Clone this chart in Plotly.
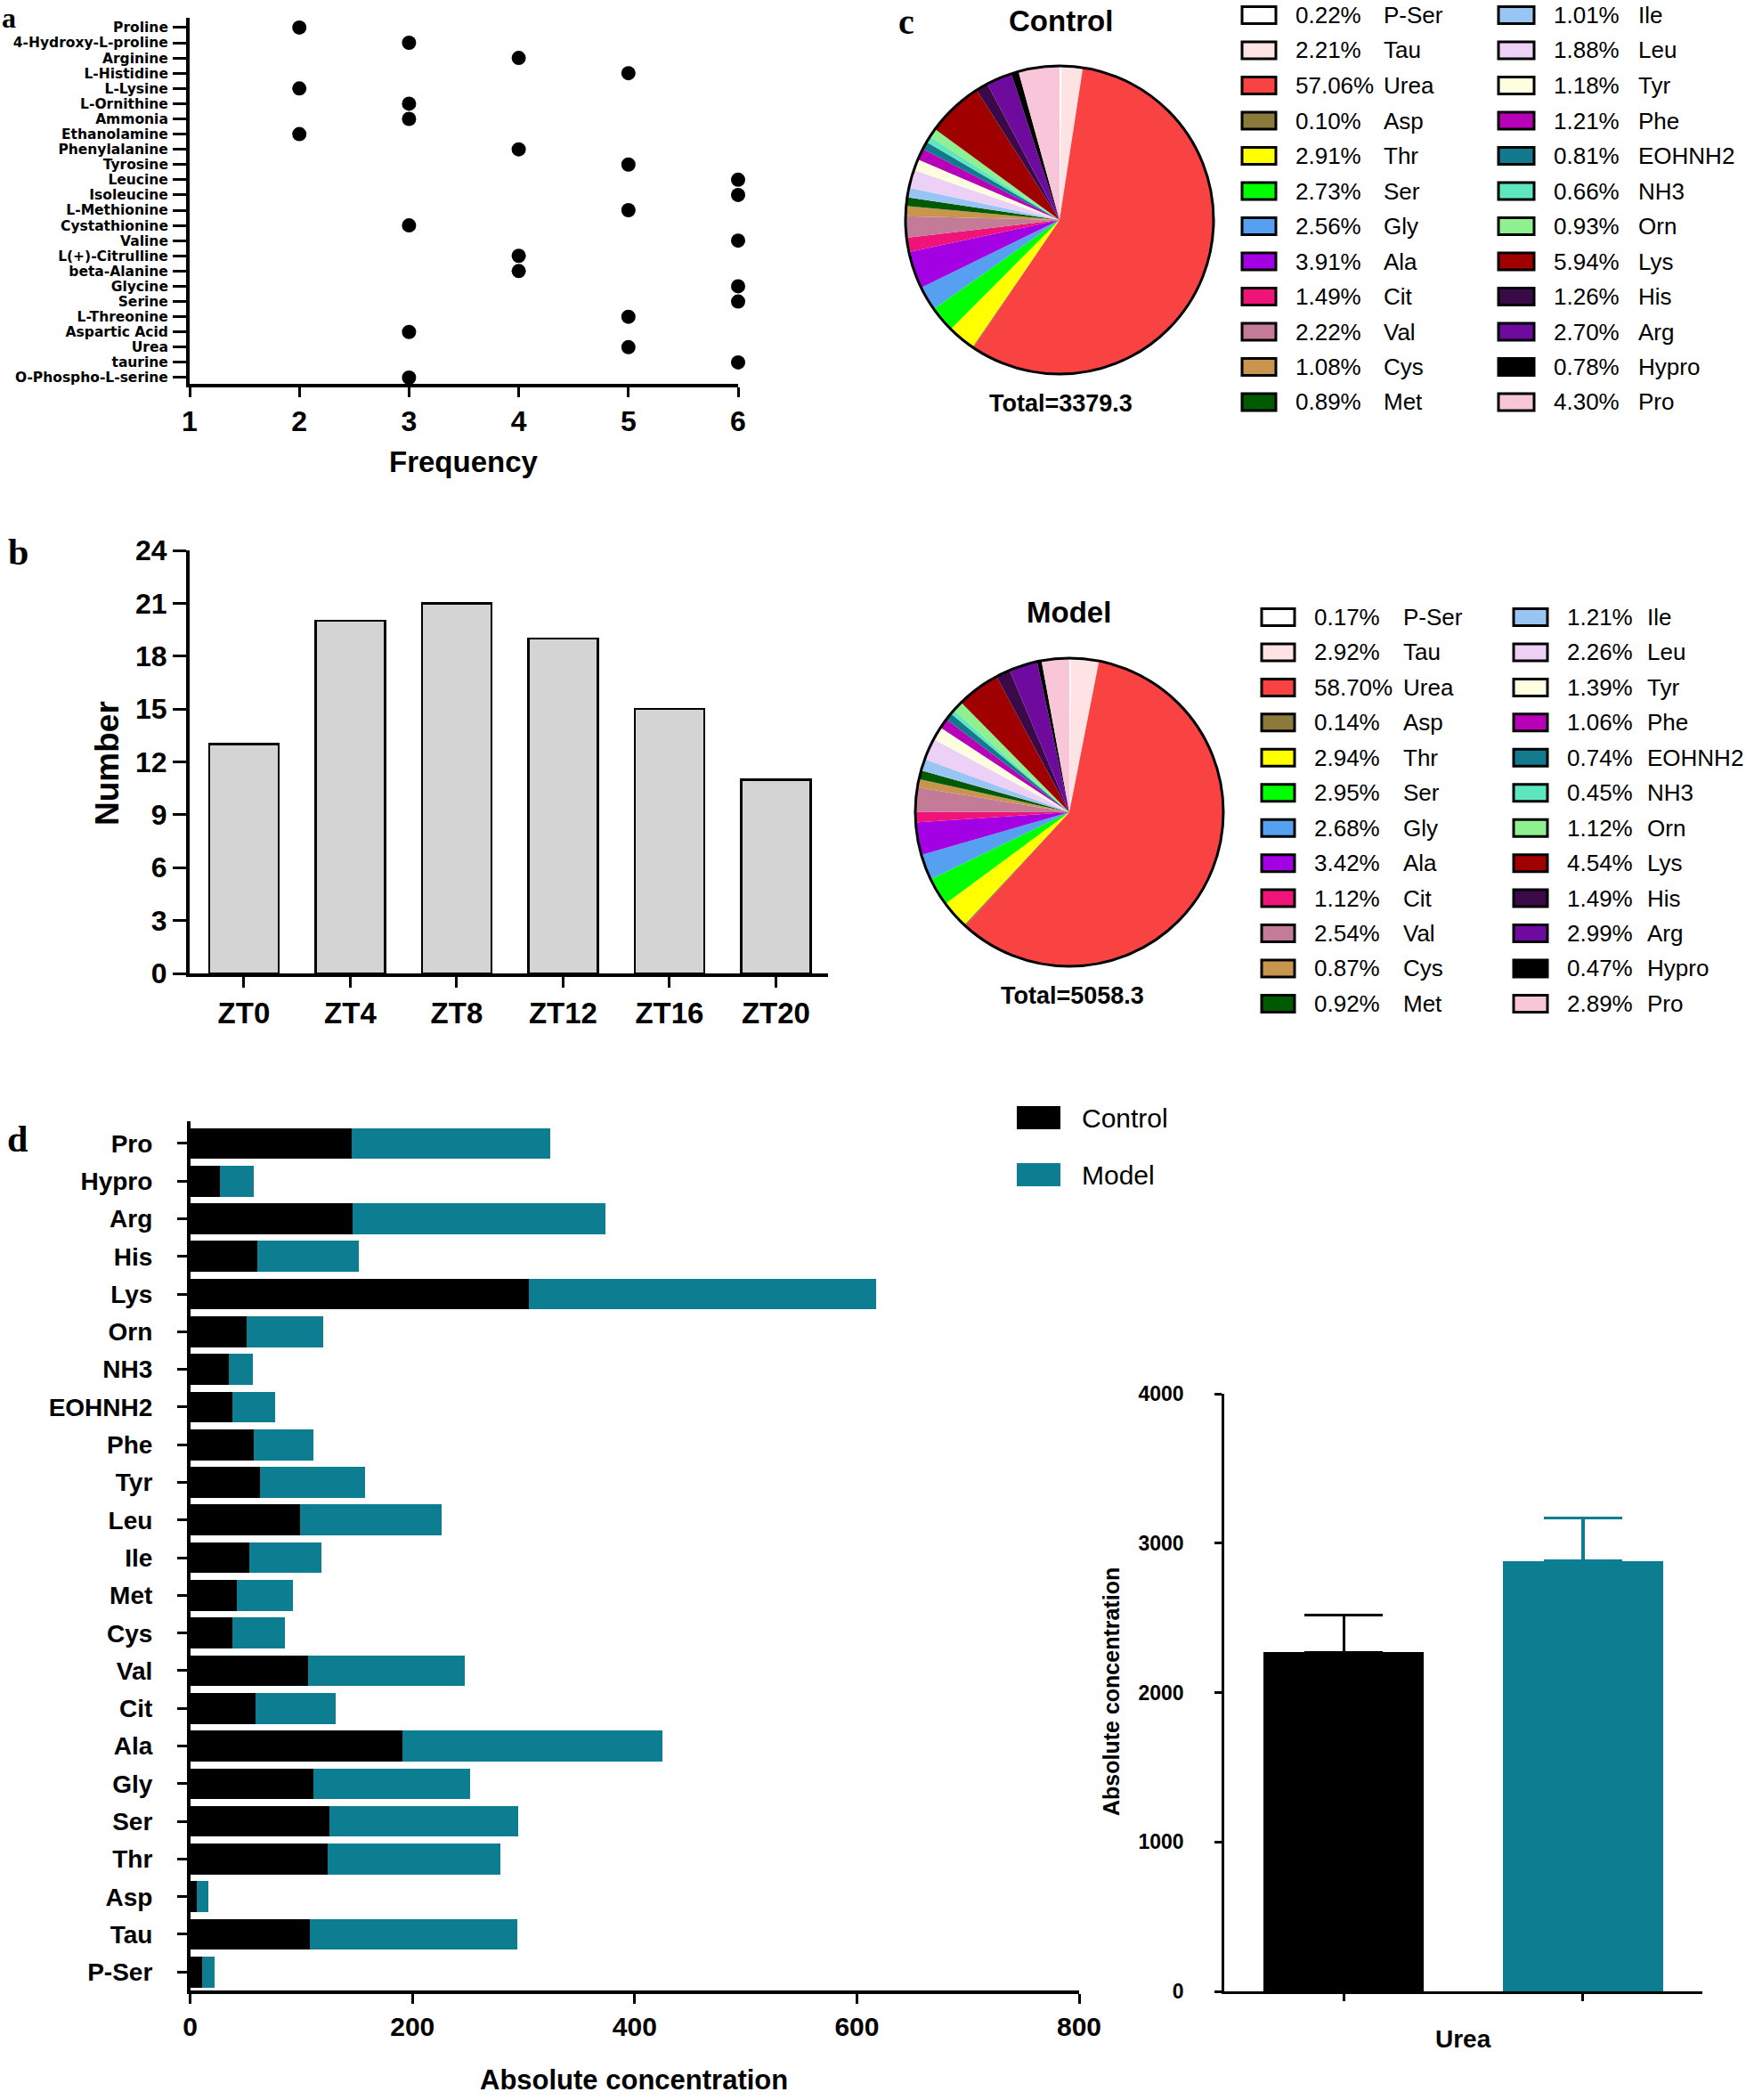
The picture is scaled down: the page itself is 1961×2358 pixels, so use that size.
import plotly.graph_objects as go

W, H = 1961, 2358


def fx(x):
    return x / W


def fy(y):
    return 1 - y / H


SANS = "Liberation Sans, Arial, sans-serif"
DEJA = "DejaVu Sans, sans-serif"
SERIF = "Liberation Serif, Times New Roman, serif"
TEAL = "#0d7d92"

# ---------------- data ----------------
# panel a
a_names = ["Proline", "4-Hydroxy-L-proline", "Arginine", "L-Histidine", "L-Lysine",
           "L-Ornithine", "Ammonia", "Ethanolamine", "Phenylalanine", "Tyrosine",
           "Leucine", "Isoleucine", "L-Methionine", "Cystathionine", "Valine",
           "L(+)-Citrulline", "beta-Alanine", "Glycine", "Serine", "L-Threonine",
           "Aspartic Acid", "Urea", "taurine", "O-Phospho-L-serine"]
a_freq = [2, 3, 4, 5, 2, 3, 3, 2, 4, 5, 6, 6, 5, 3, 6, 4, 4, 6, 6, 5, 3, 5, 6, 3]
a_xticks = [1, 2, 3, 4, 5, 6]

# panel b
b_times = ["ZT0", "ZT4", "ZT8", "ZT12", "ZT16", "ZT20"]
b_counts = [13, 20, 21, 19, 15, 11]
b_yticks = [0, 3, 6, 9, 12, 15, 18, 21, 24]

# panel c
pie_names = ["P-Ser", "Tau", "Urea", "Asp", "Thr", "Ser", "Gly", "Ala", "Cit", "Val",
             "Cys", "Met", "Ile", "Leu", "Tyr", "Phe", "EOHNH2", "NH3", "Orn", "Lys",
             "His", "Arg", "Hypro", "Pro"]
pie_colors = ["#ffffff", "#fde3e3", "#f94343", "#8b7a3a", "#ffff00", "#00ff00", "#55a0f0",
              "#a300e3", "#f0137a", "#c47b98", "#c8954f", "#005a00", "#99c5f5", "#ecd0f5",
              "#fffde0", "#b800b8", "#127a8c", "#5ee6c0", "#8ff08f", "#a00000", "#3a0a48",
              "#6e0a9e", "#000000", "#f8c6d8"]
control_pct = [0.22, 2.21, 57.06, 0.10, 2.91, 2.73, 2.56, 3.91, 1.49, 2.22, 1.08, 0.89,
               1.01, 1.88, 1.18, 1.21, 0.81, 0.66, 0.93, 5.94, 1.26, 2.70, 0.78, 4.30]
model_pct = [0.17, 2.92, 58.70, 0.14, 2.94, 2.95, 2.68, 3.42, 1.12, 2.54, 0.87, 0.92,
             1.21, 2.26, 1.39, 1.06, 0.74, 0.45, 1.12, 4.54, 1.49, 2.99, 0.47, 2.89]
control_total = 3379.3
model_total = 5058.3

# panel d
d_names = ["Pro", "Hypro", "Arg", "His", "Lys", "Orn", "NH3", "EOHNH2", "Phe", "Tyr", "Leu",
           "Ile", "Met", "Cys", "Val", "Cit", "Ala", "Gly", "Ser", "Thr", "Asp", "Tau", "P-Ser"]
d_control = [145, 27, 146, 60, 305, 51, 35, 38, 57, 63, 99, 53, 42, 38, 106, 59, 191, 111,
             125, 124, 6, 108, 11]
d_model = [179, 30, 228, 92, 312, 69, 21, 38, 54, 94, 127, 65, 50, 47, 141, 72, 234, 141,
           170, 155, 10, 186, 11]
d_xticks = [0, 200, 400, 600, 800]

# urea panel
urea_groups = ["Control", "Model"]
urea_mean = [2269, 2882]
urea_sem = [251, 287]
urea_yticks = [0, 1000, 2000, 3000, 4000]

# ---------------- figure ----------------
fig = go.Figure()

# panel a
fig.add_trace(go.Scatter(x=a_freq, y=a_names, mode="markers",
                         marker=dict(color="black", size=16),
                         cliponaxis=False, xaxis="x", yaxis="y", showlegend=False))

# panel b
fig.add_trace(go.Bar(x=b_times, y=b_counts, width=0.65,
                     marker=dict(color="#d4d4d4", line=dict(color="black", width=2.5)),
                     xaxis="x2", yaxis="y2", showlegend=False))

# panel c pies
pie_specs = [
    (control_pct, (1017, 1363), (74, 420)),
    (model_pct, (1028, 1374), (739, 1085)),
]
for vals, (x0, x1), (y0, y1) in pie_specs:
    dom = dict(x=[fx(x0), fx(x1)], y=[fy(y1), fy(y0)])
    fig.add_trace(go.Pie(values=vals, labels=pie_names, sort=False, direction="clockwise",
                         rotation=0, textinfo="none", hoverinfo="label+percent",
                         marker=dict(colors=pie_colors, line=dict(width=0)),
                         domain=dom, showlegend=False))
    fig.add_trace(go.Pie(values=[sum(vals)], labels=["outline"], sort=False, textinfo="none",
                         hoverinfo="skip",
                         marker=dict(colors=["rgba(0,0,0,0)"], line=dict(color="black", width=3)),
                         domain=dom, showlegend=False))

# panel d
fig.add_trace(go.Bar(y=d_names, x=d_control, orientation="h", width=0.82,
                     marker=dict(color="black", line=dict(width=0)), name="Control",
                     xaxis="x3", yaxis="y3", showlegend=False))
fig.add_trace(go.Bar(y=d_names, x=d_model, orientation="h", width=0.82,
                     marker=dict(color=TEAL, line=dict(width=0)), name="Model",
                     xaxis="x3", yaxis="y3", showlegend=False))

# urea panel
for i, (g, m, s, c) in enumerate(zip(urea_groups, urea_mean, urea_sem, ["black", TEAL])):
    fig.add_trace(go.Bar(x=[i], y=[m], width=0.67, name=g,
                         marker=dict(color=c, line=dict(width=0)),
                         error_y=dict(type="data", array=[s], arrayminus=[0], symmetric=False,
                                      color=c, thickness=3.5, width=44),
                         xaxis="x4", yaxis="y4", showlegend=False))

axis_common = dict(showgrid=False, zeroline=False, showline=True, linecolor="black",
                   ticks="outside", tickcolor="black", automargin=False)

fig.update_layout(
    width=W, height=H, autosize=False,
    margin=dict(l=0, r=0, t=0, b=0, pad=0, autoexpand=False),
    paper_bgcolor="white", plot_bgcolor="white",
    barmode="stack", showlegend=False,
    font=dict(family=SANS, color="black"),
    # panel a
    xaxis=dict(**axis_common, domain=[fx(213), fx(829)], range=[1, 6], anchor="y",
               tickvals=a_xticks, linewidth=4, tickwidth=3, ticklen=11,
               tickfont=dict(family=SANS, size=32, weight="bold"), ticklabelstandoff=0),
    yaxis=dict(**axis_common, domain=[fy(431), fy(20)], type="category",
               categoryorder="array", categoryarray=a_names, range=[23.41, -0.64],
               tickmode="array", tickvals=a_names, ticktext=a_names,
               anchor="x", linewidth=4, tickwidth=3, ticklen=15,
               tickfont=dict(family=DEJA, size=15.5, weight="bold"), ticklabelstandoff=2),
    # panel b
    xaxis2=dict(**axis_common, domain=[fx(213), fx(930)], range=[-0.51, 5.49], anchor="y2",
                type="category", linewidth=4, tickwidth=3, ticklen=12,
                tickfont=dict(family=SANS, size=33, weight="bold"), ticklabelstandoff=0),
    yaxis2=dict(**axis_common, domain=[fy(1093), fy(618)], range=[0, 24], anchor="x2",
                tickvals=b_yticks, linewidth=4, tickwidth=3, ticklen=15,
                tickfont=dict(family=SANS, size=32, weight="bold"), ticklabelstandoff=0),
    # panel d
    xaxis3=dict(**axis_common, domain=[fx(213.7), fx(1212)], range=[0, 800], anchor="y3",
                tickvals=d_xticks, linewidth=3.5, tickwidth=3, ticklen=11,
                tickfont=dict(family=SANS, size=30, weight="bold"), ticklabelstandoff=0),
    yaxis3=dict(**axis_common, domain=[fy(2235), fy(1259)], type="category",
                categoryorder="array", categoryarray=d_names, range=[22.49, -0.59],
                tickmode="array", tickvals=d_names, ticktext=d_names,
                anchor="x3", linewidth=3.5, tickwidth=3, ticklen=11,
                tickfont=dict(family=SANS, size=28, weight="bold"), ticklabelstandoff=22),
    # urea
    xaxis4=dict(**axis_common, domain=[fx(1375), fx(1912)], range=[-0.5, 1.5], anchor="y4",
                tickvals=[0, 1], ticktext=["", ""], linewidth=2.5, tickwidth=2.5, ticklen=8),
    yaxis4=dict(**axis_common, domain=[fy(2236), fy(1565)], range=[0, 4000], anchor="x4",
                tickvals=urea_yticks, linewidth=2.5, tickwidth=2.5, ticklen=8,
                tickfont=dict(family=SANS, size=23, weight="bold"), ticklabelstandoff=30),
)

ann = []
shapes = []


def text(x, y, s, size, weight="normal", family=SANS, xanchor="center", angle=0,
         yanchor="middle"):
    ann.append(dict(x=fx(x), y=fy(y), xref="paper", yref="paper", text=s, showarrow=False,
                    xanchor=xanchor, yanchor=yanchor, textangle=angle,
                    font=dict(family=family, size=size, color="black", weight=weight)))


# panel letters
text(0, 0, "a", 32, "bold", SERIF, xanchor="left", yanchor="top")
text(20, 620, "b", 42, "bold", SERIF)
text(1018, 0, "c", 40, "bold", SERIF, yanchor="top")
text(19, 1279, "d", 42, "bold", SERIF)

# axis titles
text(521, 518, "Frequency", 33, "bold")
text(120, 857, "Number", 37, "bold", angle=-90)
text(712, 2335, "Absolute concentration", 31, "bold")
text(1248, 1900, "Absolute concentration", 25, "bold", angle=-90)
text(1643, 2289, "Urea", 28, "bold")

# pie titles and totals
text(1191, 24, "Control", 33, "bold")
text(1191, 453, "Total=" + f"{control_total:.1f}", 27, "bold")
text(1200, 688, "Model", 33, "bold")
text(1204, 1118, "Total=" + f"{model_total:.1f}", 27, "bold")

# pie legends
legend_specs = [
    (control_pct, 17, 39.5, [(1395, 1433, 1453, 1552), (1683, 1723, 1743, 1838)]),
    (model_pct, 693, 39.45, [(1417, 1454, 1474, 1574), (1700, 1738, 1758, 1848)]),
]
for pcts, ytop, step, cols in legend_specs:
    for i, (nm, p, col) in enumerate(zip(pie_names, pcts, pie_colors)):
        c = i // 12
        r = i % 12
        bx0, bx1, tx, nx = cols[c]
        yc = ytop + r * step
        shapes.append(dict(type="rect", xref="paper", yref="paper",
                           x0=fx(bx0), x1=fx(bx1), y0=fy(yc + 9.5), y1=fy(yc - 9.5),
                           fillcolor=col, line=dict(color="black", width=3)))
        text(tx, yc, f"{p:.2f}%", 26, xanchor="left")
        text(nx, yc, nm, 26, xanchor="left")

# panel d legend
for j, (g, c) in enumerate(zip(urea_groups, ["black", TEAL])):
    yc = 1255 + j * 64
    shapes.append(dict(type="rect", xref="paper", yref="paper",
                       x0=fx(1142), x1=fx(1191), y0=fy(yc + 13), y1=fy(yc - 13),
                       fillcolor=c, line=dict(width=0)))
    text(1213, yc, g, 30, xanchor="left")

fig.update_layout(annotations=ann, shapes=shapes)

fig.write_html("out.html", config={"displayModeBar": False},
               post_script="document.body.style.margin='0';document.body.style.padding='0';")
